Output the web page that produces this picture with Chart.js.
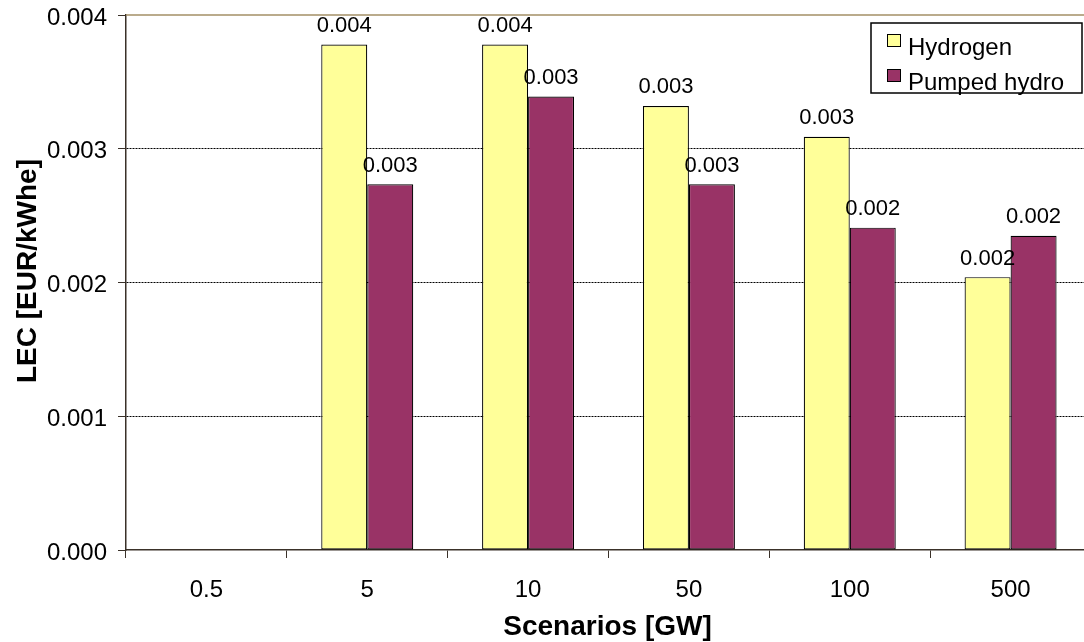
<!DOCTYPE html>
<html>
<head>
<meta charset="utf-8">
<script src="https://cdn.jsdelivr.net/npm/chart.js@4/dist/chart.umd.min.js"></script>
<style>
  html, body { margin: 0; padding: 0; background: #ffffff; overflow: hidden; width: 1084px; height: 642px; }
  canvas { display: block; }
</style>
</head>
<body>
<canvas id="lec" width="1091" height="642"></canvas>
<script>
// Levelised electricity cost of storage per scenario size
const scenarios = ['0.5', '5', '10', '50', '100', '500'];
const hydrogen = [null, 0.00378, 0.00378, 0.00332, 0.00309, 0.00204];
const pumpedHydro = [null, 0.002735, 0.00339, 0.002735, 0.00241, 0.00235];
const yTicks = [0, 0.001, 0.002, 0.003, 0.004];

const FONT = '"Liberation Sans", Arial, sans-serif';
const AXIS_DARK = '#3a3129';

// Value labels above every bar
const valueLabels = {
  id: 'valueLabels',
  afterDatasetsDraw(chart) {
    const ctx = chart.ctx;
    ctx.save();
    ctx.font = '22px ' + FONT;
    ctx.fillStyle = '#000';
    ctx.textAlign = 'center';
    ctx.textBaseline = 'alphabetic';
    chart.data.datasets.forEach((ds, i) => {
      chart.getDatasetMeta(i).data.forEach((bar, j) => {
        const v = ds.data[j];
        if (v === null || v === undefined) return;
        ctx.fillText(v.toFixed(3), bar.x, bar.y - 12.5);
      });
    });
    ctx.restore();
  }
};

// Frame line, axis titles and boxed legend
const decorations = {
  id: 'decorations',
  afterDraw(chart) {
    const ctx = chart.ctx;
    const area = chart.chartArea;
    ctx.save();

    ctx.strokeStyle = '#a38f66';
    ctx.lineWidth = 1.5;
    ctx.beginPath();
    ctx.moveTo(area.left, area.top);
    ctx.lineTo(area.right, area.top);
    ctx.stroke();

    ctx.fillStyle = '#000';
    ctx.font = 'bold 28px ' + FONT;
    ctx.textAlign = 'center';
    ctx.textBaseline = 'alphabetic';
    ctx.fillText('Scenarios [GW]', 607.5, 635);

    ctx.save();
    ctx.translate(36, 271);
    ctx.rotate(-Math.PI / 2);
    ctx.fillText('LEC [EUR/kWhe]', 0, 0);
    ctx.restore();

    // legend
    ctx.fillStyle = '#fff';
    ctx.fillRect(871, 23, 211, 70);
    ctx.strokeStyle = '#000';
    ctx.lineWidth = 1.5;
    ctx.strokeRect(871, 23, 211, 70);

    const rows = [34, 69];
    ctx.font = '24px ' + FONT;
    ctx.textAlign = 'left';
    chart.data.datasets.forEach((ds, i) => {
      const y = rows[i];
      ctx.fillStyle = ds.backgroundColor;
      ctx.fillRect(887, y, 14, 13);
      ctx.strokeStyle = '#000';
      ctx.lineWidth = 1;
      ctx.strokeRect(887.5, y + 0.5, 13, 12);
      ctx.fillStyle = '#000';
      ctx.fillText(ds.label, 908, y + 21);
    });
    ctx.restore();
  }
};

new Chart(document.getElementById('lec'), {
  type: 'bar',
  data: {
    labels: scenarios,
    datasets: [
      {
        label: 'Hydrogen',
        data: hydrogen,
        backgroundColor: '#FFFF99',
        borderColor: '#000',
        borderWidth: 1.2,
        borderSkipped: false,
        categoryPercentage: 0.572,
        barPercentage: 1.0
      },
      {
        label: 'Pumped hydro',
        data: pumpedHydro,
        backgroundColor: '#993366',
        borderColor: '#000',
        borderWidth: 1.2,
        borderSkipped: false,
        categoryPercentage: 0.572,
        barPercentage: 1.0
      }
    ]
  },
  options: {
    responsive: false,
    animation: false,
    devicePixelRatio: 1,
    layout: { padding: { top: 15, left: 0, right: 0, bottom: 0 } },
    plugins: {
      legend: { display: false },
      title: { display: false },
      tooltip: { enabled: false }
    },
    scales: {
      x: {
        type: 'category',
        offset: true,
        grid: {
          offset: true,
          drawOnChartArea: false,
          drawTicks: true,
          tickLength: 8,
          color: AXIS_DARK,
          tickColor: AXIS_DARK
        },
        border: { display: true, color: AXIS_DARK, width: 1.5 },
        ticks: {
          color: '#000',
          font: { family: FONT, size: 24 },
          padding: 18,
          maxRotation: 0
        },
        afterFit(scale) {
          scale.height = 92;
          scale.paddingLeft = 0;
          scale.paddingRight = 0;
        }
      },
      y: {
        min: 0,
        max: 0.004,
        afterBuildTicks(scale) { scale.ticks = yTicks.map(v => ({ value: v })); },
        grid: {
          color: (c) => (c.tick && (c.tick.value === 0 || c.tick.value === 0.004)) ? 'rgba(0,0,0,0)' : '#000',
          lineWidth: 1,
          tickLength: 8,
          tickColor: AXIS_DARK,
          tickBorderDash: [1, 0]
        },
        border: { display: true, color: AXIS_DARK, width: 1.5, dash: [2, 1] },
        ticks: {
          color: '#000',
          font: { family: FONT, size: 24 },
          padding: 11,
          labelOffset: 3,
          callback: (v) => Number(v).toFixed(3)
        },
        afterFit(scale) {
          scale.width = 126;
          scale.paddingTop = 0;
          scale.paddingBottom = 0;
        }
      }
    }
  },
  plugins: [valueLabels, decorations]
});
</script>
</body>
</html>
